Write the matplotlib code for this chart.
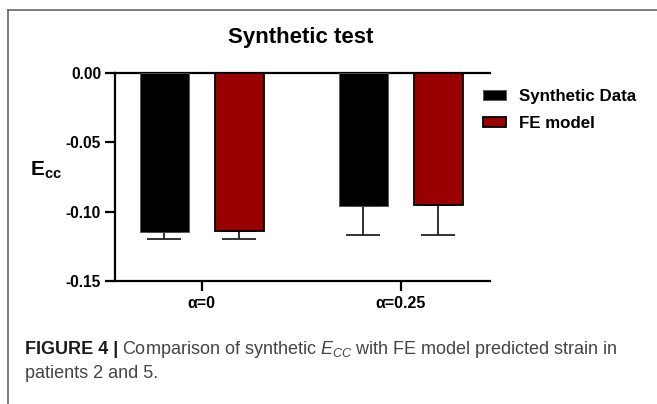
import matplotlib
matplotlib.use('Agg')
import matplotlib.pyplot as plt
from matplotlib.lines import Line2D
import numpy as np

plt.rcParams['font.family'] = ['Liberation Sans', 'DejaVu Sans']
plt.rcParams['mathtext.fontset'] = 'custom'
plt.rcParams['mathtext.rm'] = 'Liberation Sans'
plt.rcParams['mathtext.it'] = 'Liberation Sans:italic'
plt.rcParams['mathtext.bf'] = 'Liberation Sans:bold'

# data
groups = ['α=0', 'α=0.25']
series = ['Synthetic Data', 'FE model']
synthetic = [-0.1147, -0.0962]
fe_model = [-0.1140, -0.0952]
synthetic_err = [0.0049, 0.0205]
fe_err = [0.0056, 0.0215]
yticks = [0.0, -0.05, -0.10, -0.15]
ytick_labels = ['0.00', '-0.05', '-0.10', '-0.15']

BLK = '#000000'
RED = '#990000'

W, H = 657, 404
fig = plt.figure(figsize=(W / 100, H / 100), dpi=100)
fig.patch.set_facecolor('white')

# frame lines around the figure panel
fig.add_artist(Line2D([8 / W, 1.0], [1 - 10 / H, 1 - 10 / H], color='#666666', lw=1.2))
fig.add_artist(Line2D([8 / W, 8 / W], [0, 1 - 10 / H], color='#666666', lw=1.2))

ax = fig.add_axes([115 / W, 1 - 280.7 / H, (490 - 115) / W, (280.7 - 73.3) / H])

x = np.arange(len(groups))
off = 0.188
bw = 0.246
b1 = ax.bar(x - off, synthetic, bw, color=BLK, edgecolor='#555555', lw=0.6,
            label=series[0], zorder=3)
b2 = ax.bar(x + off, fe_model, bw, color=RED, edgecolor='black', lw=1.3,
            label=series[1], zorder=3)
for xs, vals, errs in [(x - off, synthetic, synthetic_err), (x + off, fe_model, fe_err)]:
    ax.errorbar(xs, vals, yerr=[errs, [0] * len(errs)], fmt='none',
                ecolor='#222222', elinewidth=1.3, capsize=12.5, capthick=1.3, zorder=2)

ax.set_xlim(-0.435, 1.447)
ax.set_ylim(-0.15, 0.0)
ax.set_yticks(yticks)
ax.set_yticklabels(ytick_labels)
ax.set_xticks(x)
ax.set_xticklabels(groups)
for s in ['left', 'top', 'bottom']:
    ax.spines[s].set_linewidth(1.6)
ax.spines['right'].set_visible(False)
ax.tick_params(axis='y', length=7, width=1.6, labelsize=11.2, pad=3)
ax.tick_params(axis='x', length=7, width=1.6, labelsize=11.5, pad=4)
for lab in ax.get_xticklabels() + ax.get_yticklabels():
    lab.set_fontweight('bold')

fig.text(301 / W, 1 - 38 / H, 'Synthetic test', ha='center', va='center',
         fontsize=16, fontweight='bold')
fig.text(46 / W, 1 - 170 / H, r'$\mathbf{E_{cc}}$', ha='center', va='center',
         fontsize=15)

ax.legend(handles=[b1, b2], loc='upper left', bbox_to_anchor=(483 / W, 1 - 89 / H),
          bbox_transform=fig.transFigure, frameon=False, borderpad=0,
          borderaxespad=0, handlelength=1.35, handleheight=0.6,
          handletextpad=0.75, labelspacing=0.7,
          prop={'weight': 'bold', 'size': 12.2})

# caption: bold lead-in, then regular grey text
lead = fig.text(25 / W, 1 - 350 / H, 'FIGURE 4 |', ha='left', va='center',
                fontsize=13, fontweight='bold', color='#1a1a1a')
r = fig.canvas.get_renderer()
bb = lead.get_window_extent(renderer=r)
CAP = '#444444'
fig.text((bb.x1 + 4) / W, 1 - 350 / H,
         r'Comparison of synthetic $E_{CC}$ with FE model predicted strain in',
         ha='left', va='center', fontsize=13, color=CAP)
fig.text(25 / W, 1 - 374 / H, 'patients 2 and 5.', ha='left', va='center',
         fontsize=13, color=CAP)

fig.savefig('out.png', dpi=100, facecolor='white')
